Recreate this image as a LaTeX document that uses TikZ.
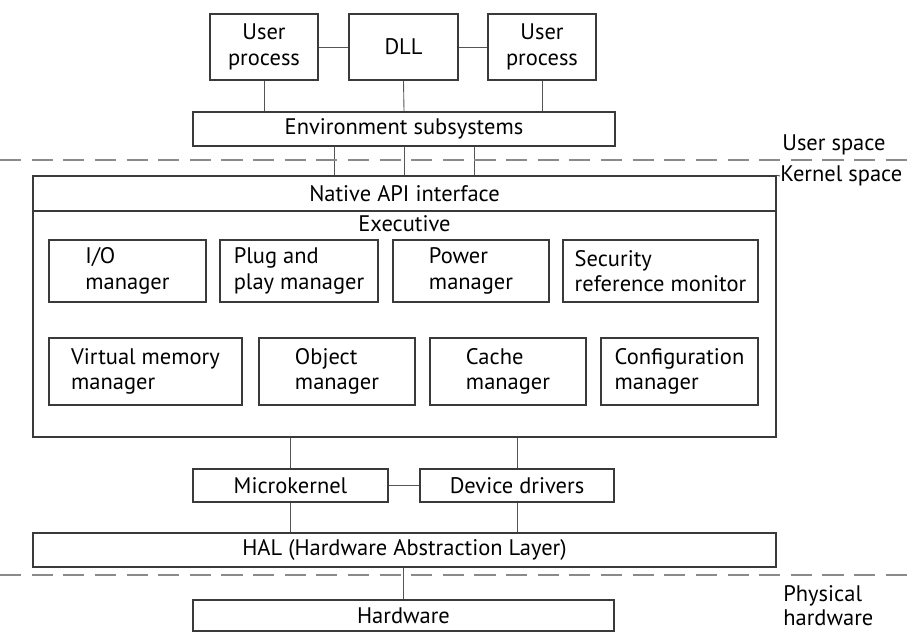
\documentclass[tikz,border=0pt]{standalone}
\usepackage{fontspec}
\setmainfont{PT Sans}
\usepackage{tikz}
\usetikzlibrary{positioning,calc}
\definecolor{boxline}{HTML}{3A3A3A}
\definecolor{linkgray}{HTML}{555555}
\definecolor{splitgray}{HTML}{8A8A8A}
\tikzset{
  box/.style={draw=boxline, line width=.9pt, fill=white, align=center, inner sep=2pt,
    font=\fontsize{12.8}{14.5}\selectfont},
  boxl/.style={box, align=left},
  link/.style={draw=linkgray, line width=.5pt},
  split/.style={draw=splitgray, line width=.7pt, dash pattern=on 12pt off 6pt},
  side/.style={anchor=west, align=left, inner sep=0pt, font=\fontsize{12.8}{13.5}\selectfont},
}
\begin{document}
\begin{tikzpicture}
    \useasboundingbox (0,0) rectangle (18.16,-12.64);

    % user side
    \node[box, minimum width=2.16cm, minimum height=1.32cm] (up1) at (5.28,-0.94) {User\\process};
    \node[box, minimum width=2.18cm, minimum height=1.32cm] (dll) at (8.07,-0.94) {DLL};
    \node[box, minimum width=2.16cm, minimum height=1.32cm] (up2) at (10.84,-0.94) {User\\process};
    \node[box, minimum width=8.44cm, minimum height=0.68cm] (env) at (8.08,-2.58) {Environment subsystems};

    % kernel side
    \node[box, minimum width=14.86cm, minimum height=0.70cm] (napi) at (8.09,-3.87) {Native API interface};
    \node[box, minimum width=14.86cm, minimum height=4.52cm,
      label={[anchor=north, inner sep=3pt, font=\fontsize{12.8}{14.5}\selectfont]north:Executive}] (exec) at (8.09,-6.48) {};

    \node[boxl, minimum width=3.14cm, minimum height=1.24cm] (iom) at (2.55,-5.42) {I/O\\manager};
    \node[boxl, minimum width=3.16cm, minimum height=1.24cm] (pnp) at (5.98,-5.42) {Plug and\\play manager};
    \node[boxl, minimum width=3.12cm, minimum height=1.24cm] (pwr) at (9.42,-5.42) {Power\\manager};
    \node[boxl, minimum width=3.90cm, minimum height=1.24cm] (srm) at (13.21,-5.42) {Security\\reference monitor};

    \node[boxl, minimum width=3.86cm, minimum height=1.34cm] (vmm) at (2.91,-7.43) {Virtual memory\\manager};
    \node[boxl, minimum width=3.12cm, minimum height=1.34cm] (obj) at (6.74,-7.43) {Object\\manager};
    \node[boxl, minimum width=3.12cm, minimum height=1.34cm] (cch) at (10.16,-7.43) {Cache\\manager};
    \node[boxl, minimum width=3.14cm, minimum height=1.34cm] (cfg) at (13.59,-7.43) {Configuration\\manager};

    \node[box, minimum width=3.90cm, minimum height=0.66cm] (mk) at (5.81,-9.71) {Microkernel};
    \node[box, minimum width=3.88cm, minimum height=0.66cm] (dd) at (10.34,-9.71) {Device drivers};
    \node[box, minimum width=14.86cm, minimum height=0.68cm] (hal) at (8.09,-11.00) {HAL (Hardware Abstraction Layer)};

    % hardware
    \node[box, minimum width=8.42cm, minimum height=0.62cm] (hw) at (8.07,-12.31) {Hardware};

    % connectors
    \draw[link] (up1) -- (dll);
    \draw[link] (dll) -- (up2);
    \draw[link] (up1.south) -- (up1.south |- env.north);
    \draw[link] (dll.south) -- (env.north);
    \draw[link] (up2.south) -- (up2.south |- env.north);
    \foreach \dx in {-1.4,0,1.4}
      \draw[link] ([xshift=\dx cm]env.south) -- ([xshift=\dx cm]env.south |- napi.north);
    \draw[link] (exec.south -| mk) -- (mk.north);
    \draw[link] (exec.south -| dd) -- (dd.north);
    \draw[link] (mk) -- (dd);
    \draw[link] (mk.south) -- (mk.south |- hal.north);
    \draw[link] (dd.south) -- (dd.south |- hal.north);
    \draw[link] (hal.south -| hw) -- (hw.north);

    % space borders
    \coordinate (us0) at (0,-3.20);
    \coordinate (us1) at (18.16,-3.20);
    \coordinate (ph0) at (0,-11.50);
    \coordinate (ph1) at (18.16,-11.50);
    \draw[split] (us0) -- (us1);
    \draw[split] (ph0) -- (ph1);

    \node[side] (uslbl) at (15.64,-2.90) {User space};
    \node[side] (kslbl) at (15.60,-3.52) {Kernel space};
    \draw[link] (napi.north east) -- (kslbl.west);
    \node[side] (phlbl) at (15.66,-12.12) {Physical\\hardware};
  \end{tikzpicture}
\end{document}
